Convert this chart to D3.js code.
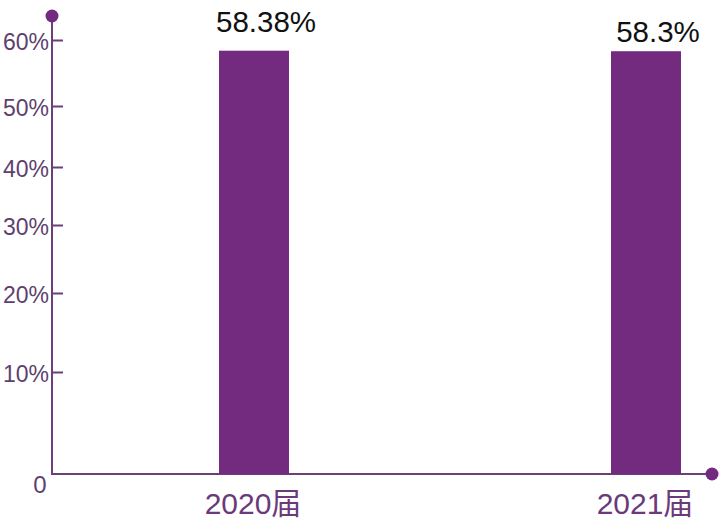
<!DOCTYPE html>
<html><head><meta charset="utf-8">
<script src="https://cdn.jsdelivr.net/npm/d3@7"></script>
<style>body{margin:0;background:#fff}svg{display:block}</style>
</head><body>
<svg id="c" width="727" height="521"></svg>
<script>
const categories = ["2020届", "2021届"];
const values = [58.38, 58.3];
const valueLabels = ["58.38%", "58.3%"];
const tickValues = [10, 20, 30, 40, 50, 60];
const tickLabels = ["10%", "20%", "30%", "40%", "50%", "60%"];

const svg = d3.select("#c");
const axisColor = "#6a3f7a";
const barColor = "#722b7e";
const textColor = "#5e3f6e";

// piecewise scale matching the reference's uneven tick spacing
const y = d3.scaleLinear()
  .domain([0, 10, 20, 30, 40, 50, 60])
  .range([474, 372, 293, 225, 167, 106, 40]);

const yAxis = d3.axisRight(y).tickValues(tickValues).tickSize(11).tickFormat("");
const gy = svg.append("g").attr("transform", "translate(52,0)").call(yAxis);
gy.select(".domain").remove();
gy.selectAll(".tick line").attr("stroke", axisColor).attr("stroke-width", 2);

svg.append("line").attr("x1", 52).attr("x2", 52).attr("y1", 16).attr("y2", y(0)+1)
  .attr("stroke", axisColor).attr("stroke-width", 2);
svg.append("line").attr("x1", 51).attr("x2", 712).attr("y1", y(0)).attr("y2", y(0))
  .attr("stroke", axisColor).attr("stroke-width", 2);
svg.append("circle").attr("cx", 52).attr("cy", 16).attr("r", 6.5).attr("fill", "#742a80");
svg.append("circle").attr("cx", 712).attr("cy", y(0)).attr("r", 6.5).attr("fill", "#742a80");

svg.selectAll(".tl").data(tickValues).join("text")
  .attr("x", 49).attr("y", d => y(d) + 10)
  .attr("text-anchor", "end")
  .attr("font-family", "Liberation Sans, Arial, sans-serif")
  .attr("font-size", 23).attr("fill", textColor)
  .text((d, i) => tickLabels[i]);
svg.append("text").attr("x", 40).attr("y", 493).attr("text-anchor", "middle")
  .attr("font-family", "Liberation Sans, Arial, sans-serif")
  .attr("font-size", 24).attr("fill", textColor).text("0");

const bw = 70;
const xb = d3.scalePoint().domain(categories).range([254, 646]);
svg.selectAll(".bar").data(values).join("rect")
  .attr("x", (d, i) => xb(categories[i]) - bw/2)
  .attr("width", bw)
  .attr("y", d => y(d))
  .attr("height", d => y(0) - y(d))
  .attr("fill", barColor);

svg.selectAll(".vl").data(values).join("text")
  .attr("x", (d, i) => xb(categories[i]) + 12)
  .attr("y", (d, i) => i === 0 ? 32 : 42)
  .attr("text-anchor", "middle")
  .attr("font-family", "Liberation Sans, Arial, sans-serif")
  .attr("font-size", 29.5).attr("fill", "#111")
  .text((d, i) => valueLabels[i]);

svg.selectAll(".cl").data(categories).join("text")
  .attr("x", d => xb(d) - 1)
  .attr("y", 514)
  .attr("text-anchor", "middle")
  .attr("font-family", "Liberation Sans, 'Noto Sans CJK SC', sans-serif")
  .attr("font-size", 30).attr("fill", "#6a3a7a")
  .text(d => d);
</script>
</body></html>
